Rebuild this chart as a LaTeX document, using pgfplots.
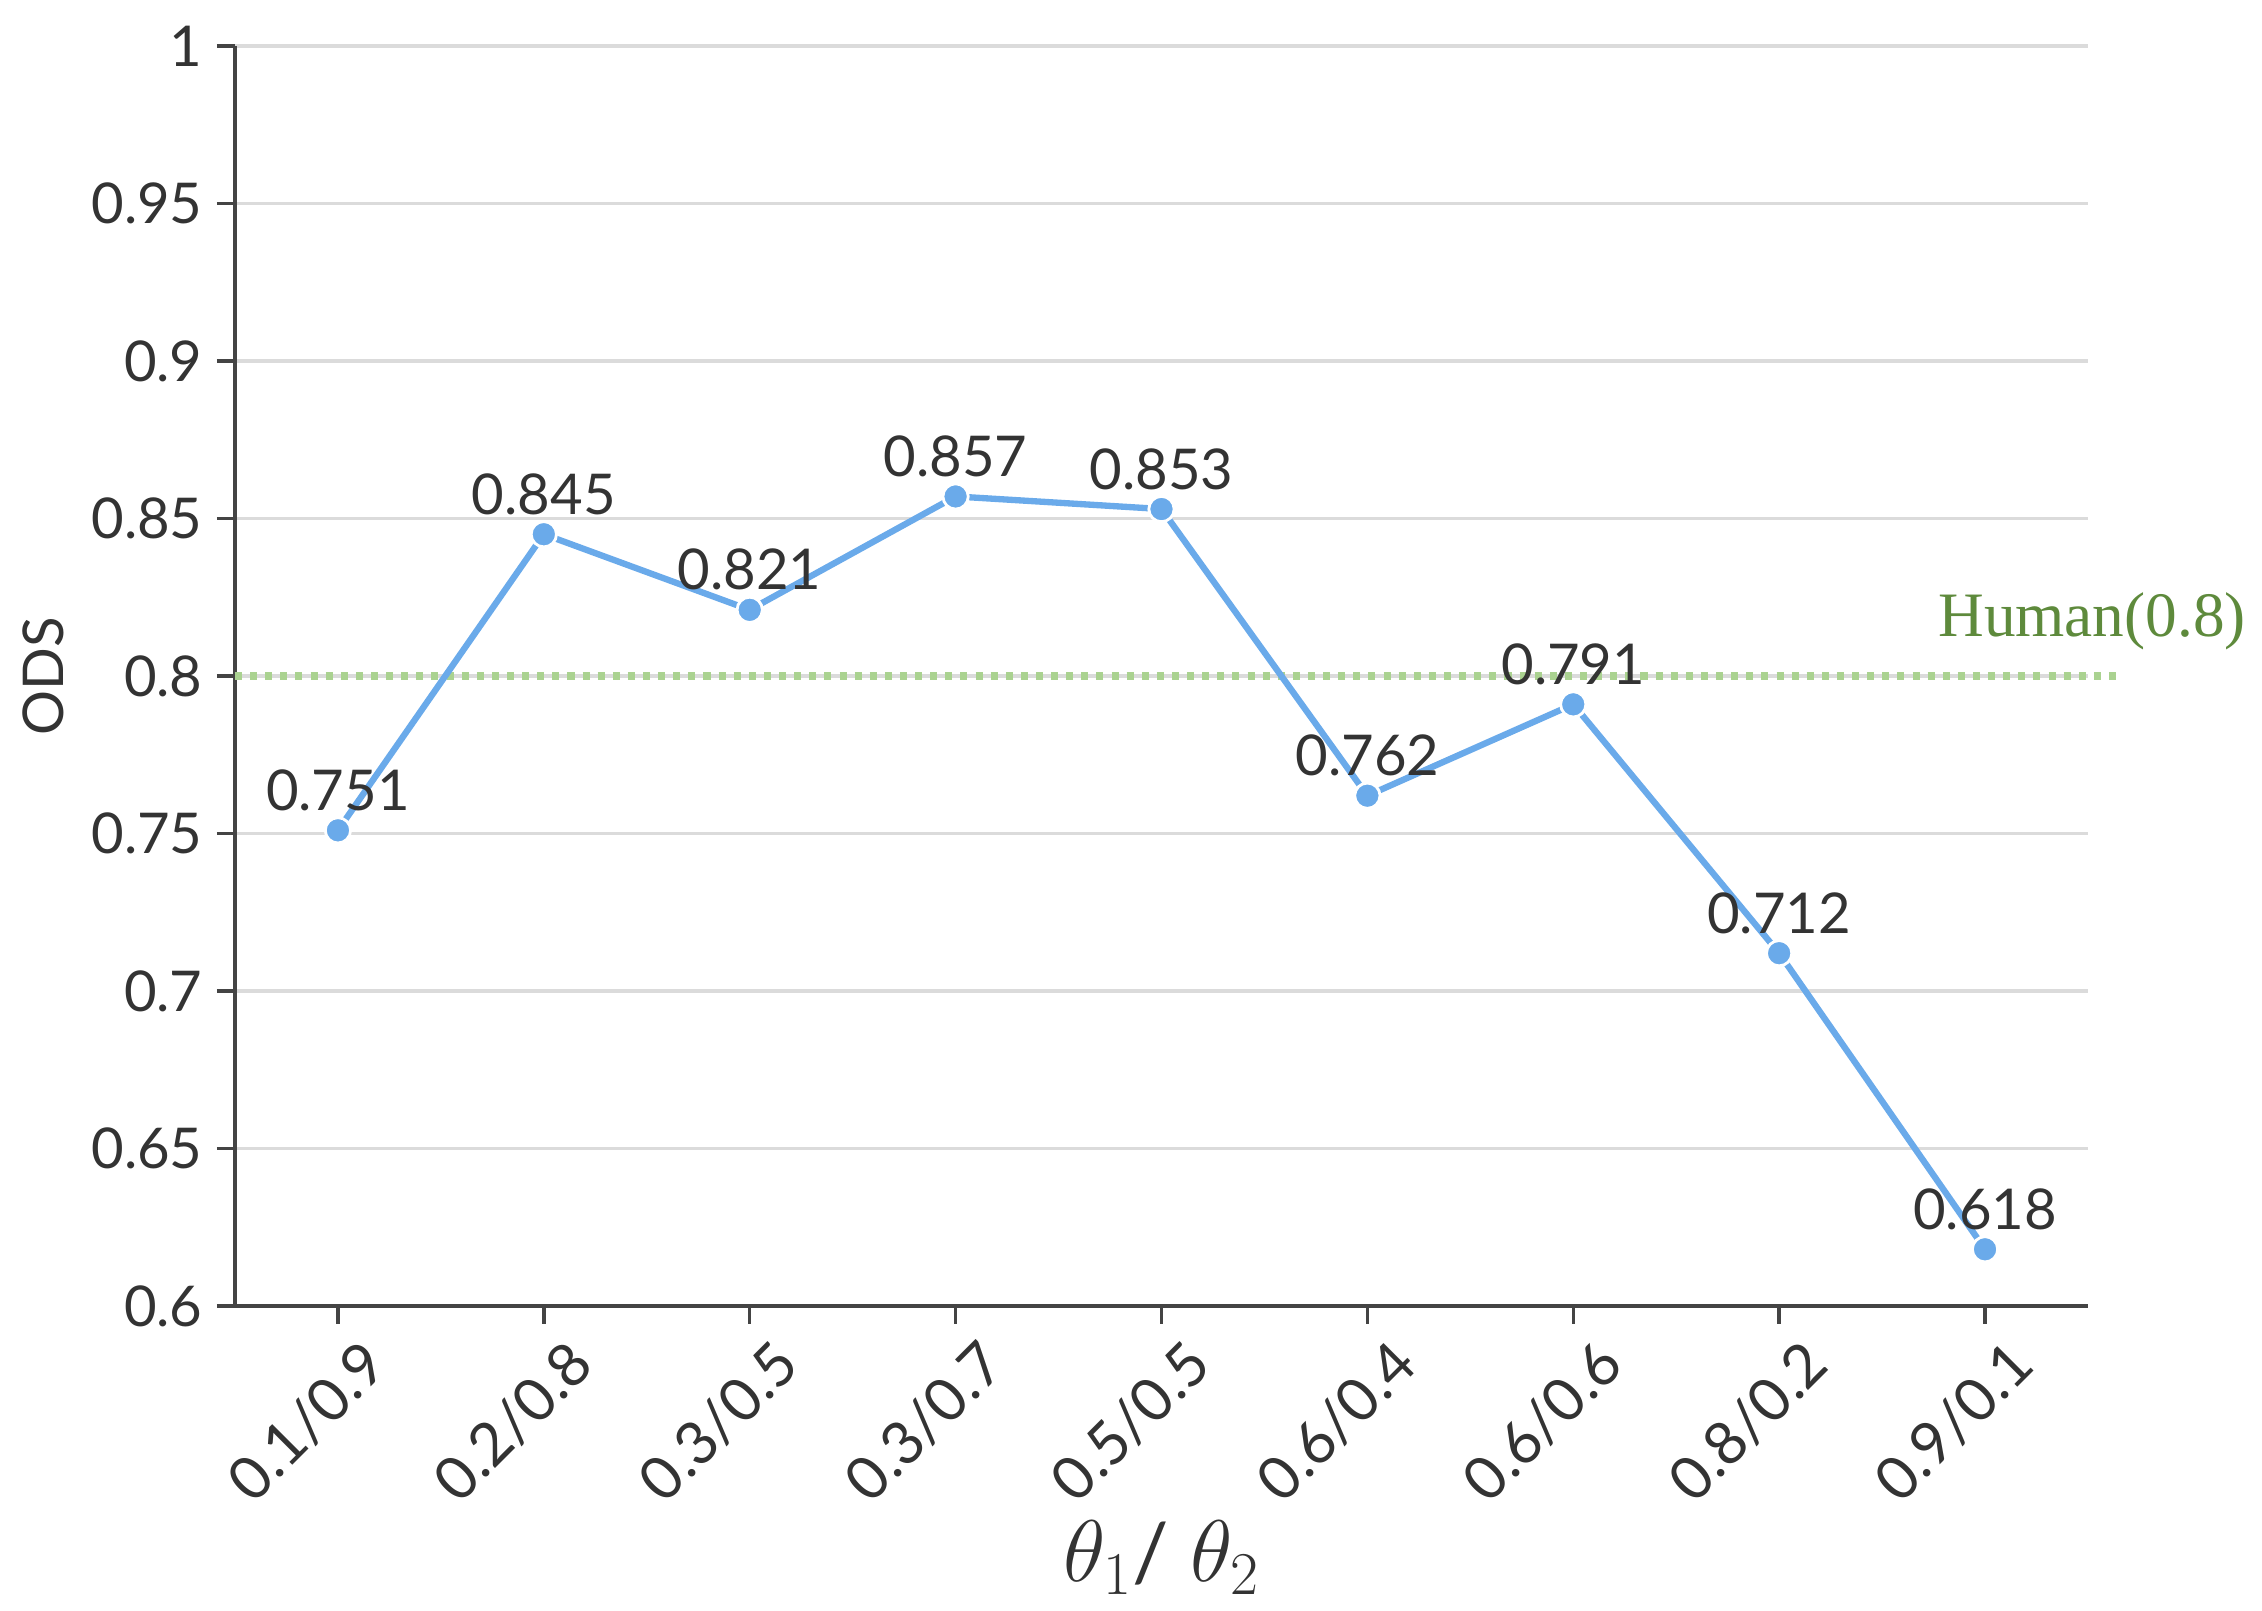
\documentclass[border=0pt]{standalone}
\usepackage{pgfplots}
\pgfplotsset{compat=1.18}
\usepackage{fontspec}
\setmainfont{Lato}
\newfontfamily\serifhum{Liberation Serif}
\definecolor{lineblue}{HTML}{6AAAEA}
\definecolor{humgreen}{HTML}{5E8A3C}
\definecolor{dotgreen}{HTML}{AAD290}
\definecolor{axgray}{HTML}{444444}
\definecolor{txtgray}{HTML}{333333}
\begin{document}
\begin{tikzpicture}
\useasboundingbox (-2.35cm,-3.05cm) rectangle (20.27cm,13.06cm);
\begin{axis}[
  width=18.53cm, height=12.60cm, scale only axis,
  xmin=-0.5, xmax=8.5, ymin=0.6, ymax=1,
  clip=false,
  axis x line*=bottom, axis y line*=left,
  axis line style={axgray, line width=1pt, -},
  tick style={axgray, line width=1pt},
  tick align=outside,
  major tick length=0.18cm,
  xtick={0,1,2,3,4,5,6,7,8},
  xticklabels={0.1/0.9,0.2/0.8,0.3/0.5,0.3/0.7,0.5/0.5,0.6/0.4,0.6/0.6,0.8/0.2,0.9/0.1},
  ytick={0.6,0.65,0.7,0.75,0.8,0.85,0.9,0.95,1},
  yticklabels={0.6,0.65,0.7,0.75,0.8,0.85,0.9,0.95,1},
  ymajorgrids, xmajorgrids=false,
  grid style={gray!28, line width=1pt},
  ticklabel style={font=\fontsize{16}{19}\selectfont, text=txtgray},
  xticklabel style={rotate=45, anchor=north east, inner sep=1pt, yshift=-0.2cm, xshift=0.1cm, font=\fontsize{17}{20}\selectfont},
  yticklabel style={anchor=east, xshift=-0.02cm},
  xlabel={$\theta_1$/ $\theta_2$},
  ylabel={ODS},
  xlabel style={at={(axis description cs:0.5,-0.2)}, anchor=center, font=\fontsize{23}{26}\selectfont, text=txtgray},
  ylabel style={at={(axis description cs:-0.1036,0.5)}, anchor=center, rotate=0, font=\fontsize{16}{19}\selectfont, text=txtgray},
]
\addplot[dotgreen, line width=2pt, dash pattern=on 2pt off 2.3pt] coordinates {(-0.5,0.8) (8.64,0.8)};
\node[anchor=east, text=humgreen, font=\serifhum\fontsize{18}{20}\selectfont, inner sep=0pt] at (axis cs:9.27,0.8175) {Human(0.8)};
\addplot[lineblue, line width=1.8pt, mark=*, mark size=3.6pt,
  mark options={fill=lineblue, draw=white, line width=0.8pt},
  nodes near coords, point meta=explicit symbolic,
  every node near coord/.style={anchor=center, yshift=0.4cm, font=\fontsize{16}{19}\selectfont, text=txtgray}]
  coordinates {
  (0,0.751) [0.751]
  (1,0.845) [0.845]
  (2,0.821) [0.821]
  (3,0.857) [0.857]
  (4,0.853) [0.853]
  (5,0.762) [0.762]
  (6,0.791) [0.791]
  (7,0.712) [0.712]
  (8,0.618) [0.618]
  };
\end{axis}
\end{tikzpicture}
\end{document}
